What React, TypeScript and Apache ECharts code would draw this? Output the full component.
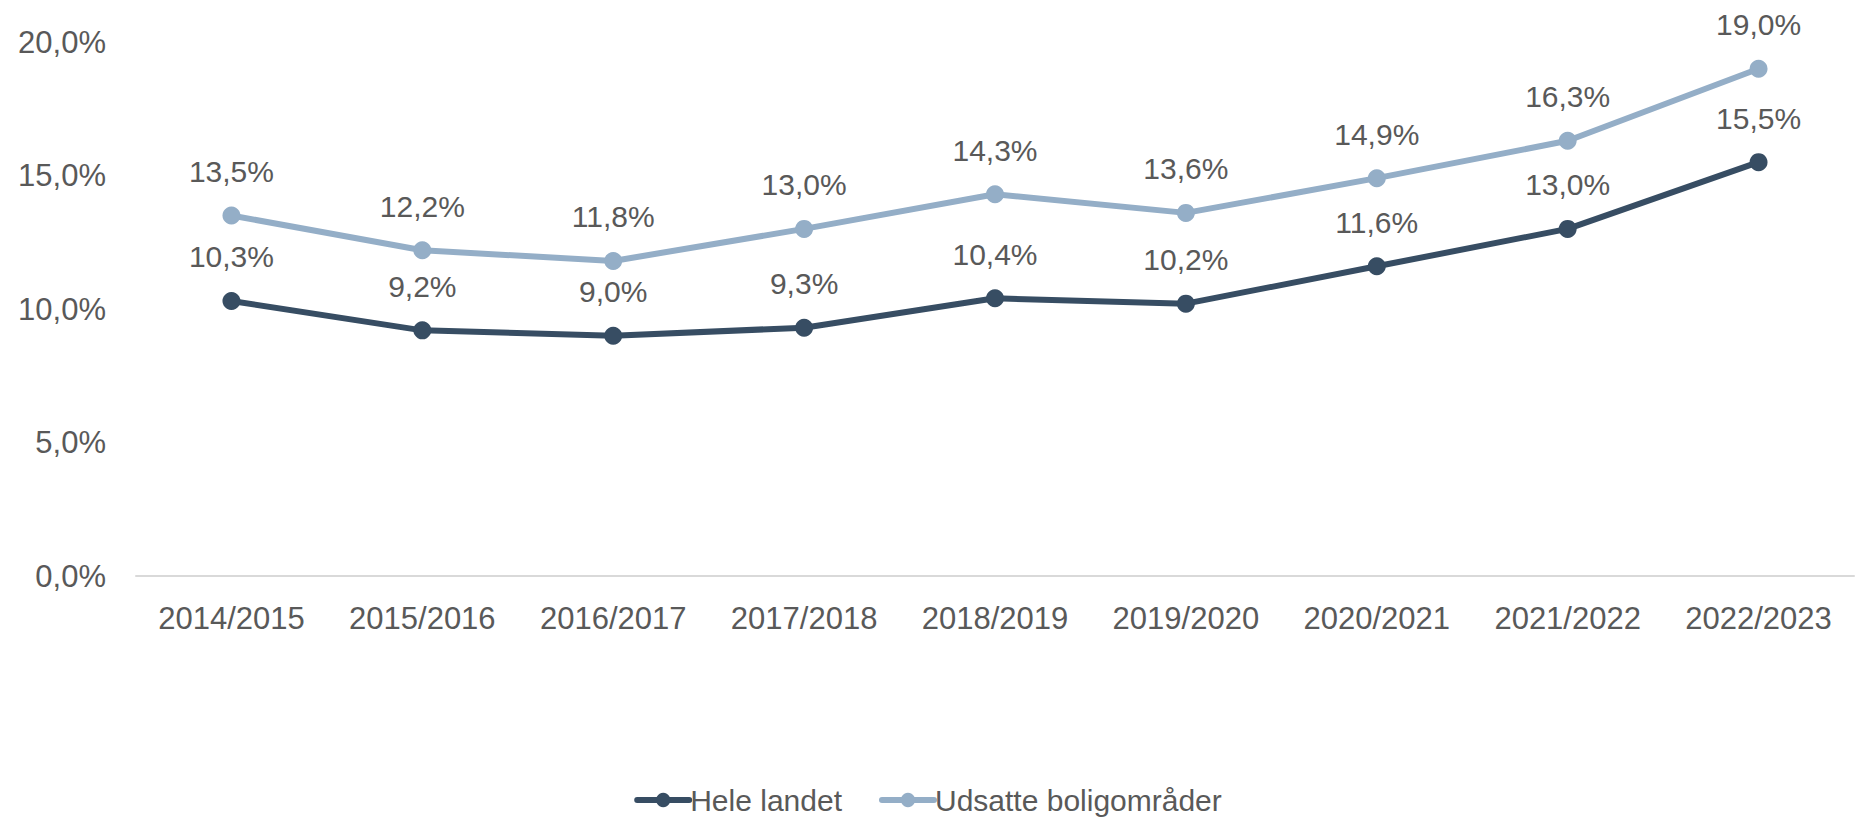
import React, { useEffect, useRef } from "react";
import * as echarts from "echarts";

const categories = ["2014/2015", "2015/2016", "2016/2017", "2017/2018", "2018/2019", "2019/2020", "2020/2021", "2021/2022", "2022/2023"];
const heleLandet = [10.3, 9.2, 9.0, 9.3, 10.4, 10.2, 11.6, 13.0, 15.5];
const udsatte = [13.5, 12.2, 11.8, 13.0, 14.3, 13.6, 14.9, 16.3, 19.0];
const seriesNames = ["Hele landet", "Udsatte boligområder"];
const colors = ["#374d63", "#94aec7"];

const FONT = "'Liberation Sans', Arial, sans-serif";
const TXT = "#595959";
const fmt = (v: number) => v.toFixed(1).replace(".", ",") + "%";

export default function App() {
  const ref = useRef<HTMLDivElement>(null);
  useEffect(() => {
    if (!ref.current) return;
    const chart = echarts.init(ref.current, undefined, { renderer: "svg" });
    const mk = (name: string, data: number[], color: string) => ({
      name,
      type: "line",
      data,
      color,
      symbol: "circle",
      symbolSize: 18,
      lineStyle: { width: 6, color },
      itemStyle: { color },
      label: {
        show: true,
        position: "top",
        distance: 20,
        color: TXT,
        fontFamily: FONT,
        fontSize: 30,
        formatter: (p: any) => fmt(p.value),
      },
    });
    chart.setOption({
      animation: false,
      textStyle: { fontFamily: FONT },
      grid: { left: 136, right: 2, top: 42, bottom: 241, containLabel: false },
      legend: {
        top: 785,
        left: "center",
        padding: 0,
        itemWidth: 52,
        itemHeight: 18,
        itemGap: 37,
        lineStyle: { width: 6, cap: "round" },
        textStyle: { color: TXT, fontSize: 30, lineHeight: 30, fontFamily: FONT, padding: [0, 0, 0, -4] },
        data: seriesNames,
      },
      xAxis: {
        type: "category",
        data: categories,
        boundaryGap: true,
        axisLine: { lineStyle: { color: "#d9d9d9", width: 2 } },
        axisTick: { show: false },
        axisLabel: { color: TXT, fontSize: 31, fontFamily: FONT, margin: 27 },
      },
      yAxis: {
        type: "value",
        min: 0,
        max: 20,
        interval: 5,
        splitLine: { show: false },
        axisLine: { show: false },
        axisTick: { show: false },
        axisLabel: { color: TXT, fontSize: 31, fontFamily: FONT, margin: 30, formatter: (v: number) => fmt(v) },
      },
      series: [mk(seriesNames[0], heleLandet, colors[0]), mk(seriesNames[1], udsatte, colors[1])],
    });
    return () => chart.dispose();
  }, []);
  return <div ref={ref} style={{ width: 1856, height: 817, position: "absolute", left: 0, top: 0 }} />;
}
